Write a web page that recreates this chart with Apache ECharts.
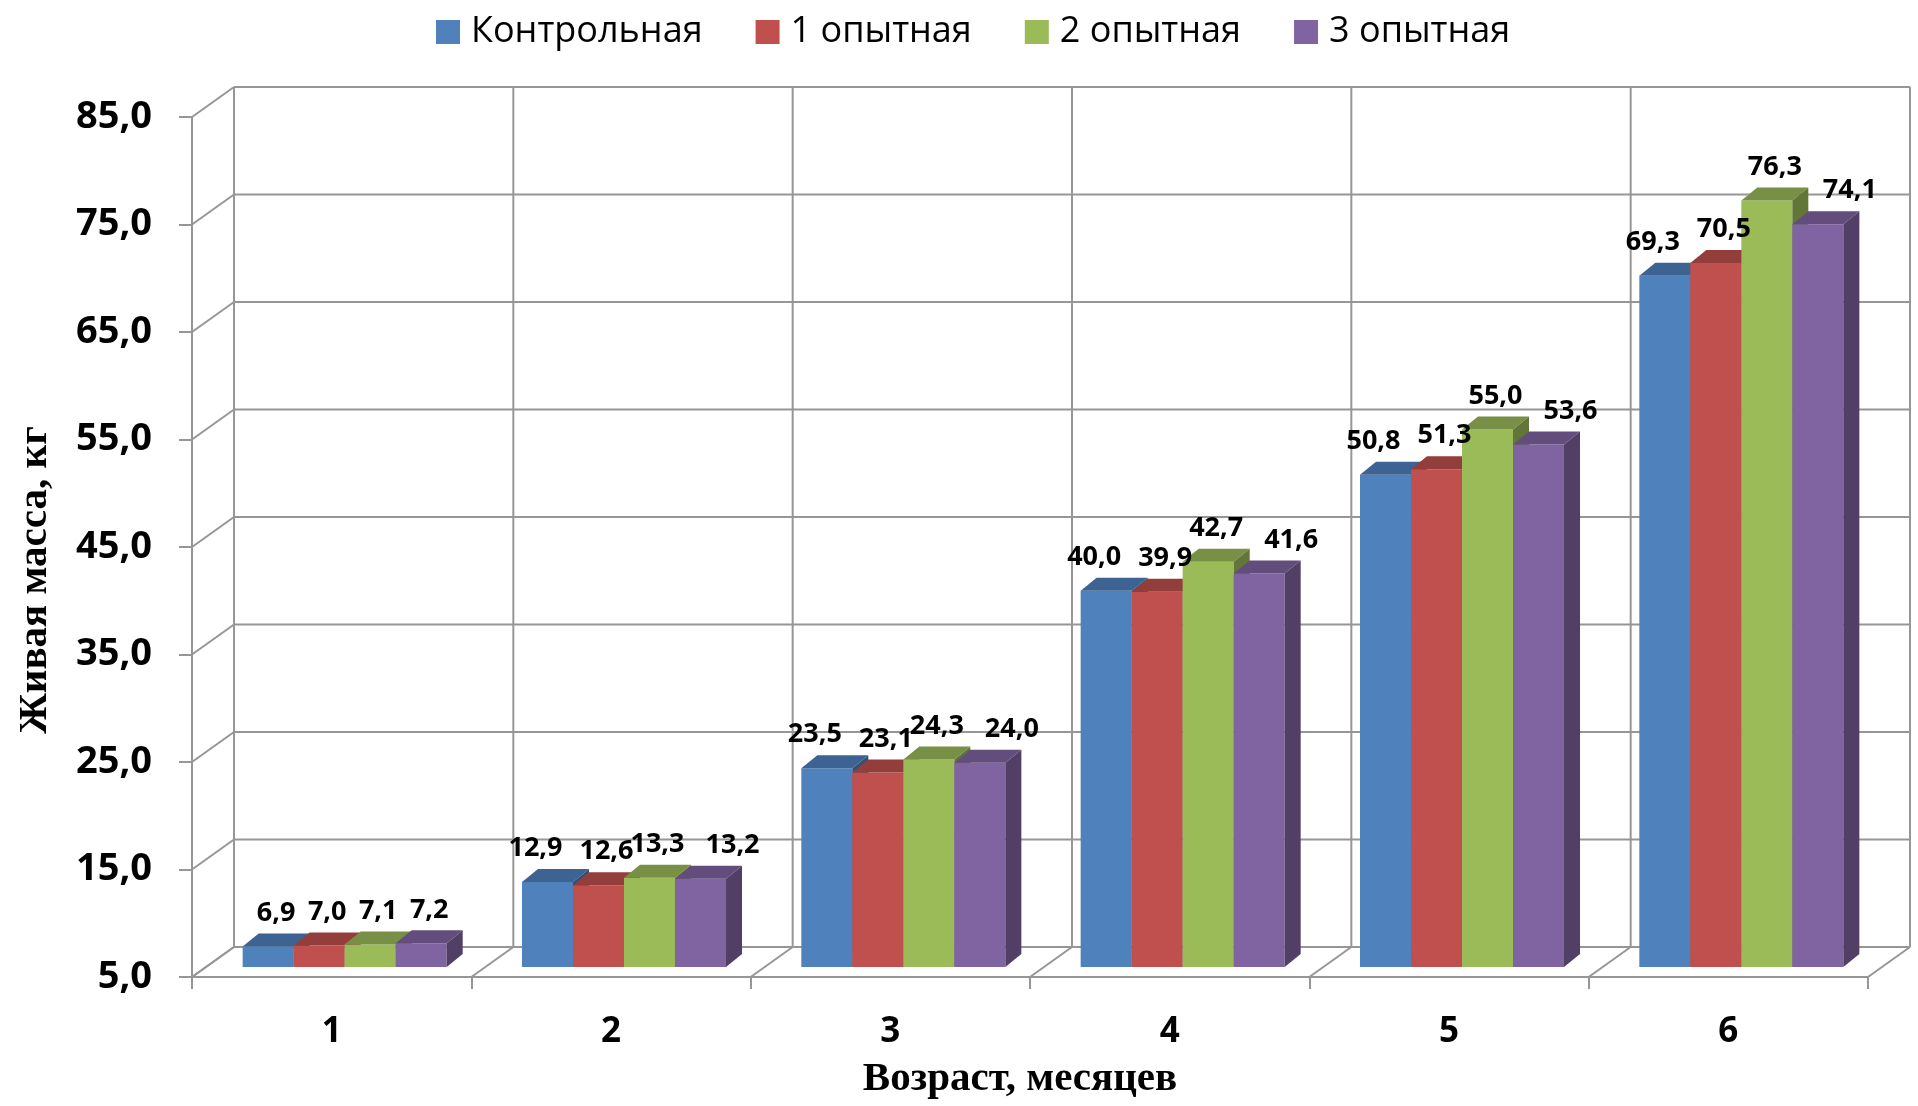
<!DOCTYPE html>
<html>
<head>
<meta charset="utf-8">
<title>Живая масса</title>
<script src="https://cdn.jsdelivr.net/npm/echarts@6.0.0/dist/echarts.min.js"></script>
<style>
    html, body { margin: 0; padding: 0; background: #ffffff; }
    #char1 { width: 1918px; height: 1106px; }
</style>
</head>
<body>
<div id="char1"></div>
<script>
// данные
var months = ["1", "2", "3", "4", "5", "6"];
var seriesNames = ["Контрольная", "1 опытная", "2 опытная", "3 опытная"];
var control = [6.9, 12.9, 23.5, 40.0, 50.8, 69.3];
var exp1 = [7.0, 12.6, 23.1, 39.9, 51.3, 70.5];
var exp2 = [7.1, 13.3, 24.3, 42.7, 55.0, 76.3];
var exp3 = [7.2, 13.2, 24.0, 41.6, 53.6, 74.1];
var yTicks = [5, 15, 25, 35, 45, 55, 65, 75, 85];

var colors = ["#4F81BD", "#C0504D", "#9BBB59", "#8064A2"];
var gridColor = "#969696";

// смещения псевдо-3D
var WALL_DX = 42, WALL_DY = -30;
var BAR_DX = 13, BAR_DY = -10;
var DEPTH_DX = 16, DEPTH_DY = -13;
var BAR_RATIO = 0.1826;

function shade(hex, k) {
    var n = parseInt(hex.slice(1), 16);
    var r = Math.round(((n >> 16) & 255) * k);
    var g = Math.round(((n >> 8) & 255) * k);
    var b = Math.round((n & 255) * k);
    return "rgb(" + r + "," + g + "," + b + ")";
}

function fmt(v) {
    return Number(v).toFixed(1).replace(".", ",");
}

function line(x1, y1, x2, y2) {
    return {
        type: "line",
        shape: { x1: x1, y1: y1, x2: x2, y2: y2 },
        style: { stroke: gridColor, lineWidth: 2 },
    };
}

// задняя и левая стенки, пол
function renderWalls(params, api) {
    var band = api.size([1, 0])[0];
    var first = api.coord([0, yTicks[0]]);
    var xL = first[0] - band / 2;
    var xR = xL + band * months.length;
    var yBottom = first[1];
    var yTop = api.coord([0, yTicks[yTicks.length - 1]])[1];
    var children = [];
    yTicks.forEach(function (v) {
        var y = api.coord([0, v])[1];
        children.push(line(xL, y, xL + WALL_DX, y + WALL_DY));
        children.push(line(xL + WALL_DX, y + WALL_DY, xR + WALL_DX, y + WALL_DY));
    });
    for (var i = 0; i <= months.length; i++) {
        var xb = xL + band * i;
        children.push(line(xb, yBottom, xb + WALL_DX, yBottom + WALL_DY));
        children.push(line(xb + WALL_DX, yBottom + WALL_DY, xb + WALL_DX, yTop + WALL_DY));
    }
    return { type: "group", children: children };
}

function barRenderer(s) {
    return function (params, api) {
        var idx = api.value(0);
        var val = api.value(1);
        var top = api.coord([idx, val]);
        var base = api.coord([idx, yTicks[0]]);
        var band = api.size([1, 0])[0];
        var w = band * BAR_RATIO;
        var x0 = top[0] + (s - seriesNames.length / 2) * w + BAR_DX;
        var x1 = x0 + w;
        var yt = top[1] + BAR_DY;
        var yb = base[1] + BAR_DY;
        var c = colors[s];
        var text = fmt(val);
        // длинные подписи у крайних столбиков раздвигаются, как в Excel
        var shift = 0;
        if (text.length > 3) {
            if (s === 0) shift = -20;
            if (s === seriesNames.length - 1) shift = 24;
        }
        return {
            type: "group",
            children: [
                {
                    type: "rect",
                    shape: { x: x0, y: yt, width: w, height: yb - yt },
                    style: { fill: c },
                },
                {
                    type: "polygon",
                    shape: { points: [[x0, yt], [x1, yt], [x1 + DEPTH_DX, yt + DEPTH_DY], [x0 + DEPTH_DX, yt + DEPTH_DY]] },
                    style: { fill: shade(c, 0.77) },
                },
                {
                    type: "polygon",
                    shape: { points: [[x1, yt], [x1 + DEPTH_DX, yt + DEPTH_DY], [x1 + DEPTH_DX, yb + DEPTH_DY], [x1, yb]] },
                    style: { fill: shade(c, 0.63) },
                },
                {
                    type: "text",
                    x: (x0 + x1 + DEPTH_DX) / 2 + shift,
                    y: yt + DEPTH_DY - 7,
                    z2: 100,
                    style: {
                        text: text,
                        fill: "#000",
                        fontFamily: "Open Sans",
                        fontWeight: "bold",
                        fontSize: 27,
                        align: "center",
                        verticalAlign: "bottom",
                    },
                },
            ],
        };
    };
}

function $(fn) {
    if (document.readyState === "loading") {
        document.addEventListener("DOMContentLoaded", fn);
    } else {
        fn();
    }
}

$(function () {
    char1();
});

function char1() {
    var myChart = echarts.init(document.getElementById("char1"));
    var values = [control, exp1, exp2, exp3];

    var series = [
        {
            name: "walls",
            type: "custom",
            silent: true,
            renderItem: renderWalls,
            data: [[0, yTicks[0]]],
            encode: { x: 0, y: 1 },
            z: 1,
        },
    ];
    values.forEach(function (arr, s) {
        series.push({
            name: seriesNames[s],
            type: "custom",
            renderItem: barRenderer(s),
            itemStyle: { color: colors[s] },
            encode: { x: 0, y: 1 },
            data: arr.map(function (v, i) { return [i, v]; }),
            z: 2,
        });
    });

    var option = {
        animation: false,
        color: colors,
        textStyle: { fontFamily: "Open Sans" },
        legend: {
            data: seriesNames,
            left: 431,
            top: 8,
            icon: "rect",
            itemWidth: 24,
            itemHeight: 24,
            itemGap: 53,
            textStyle: {
                color: "#000",
                fontSize: 36,
                fontFamily: "Open Sans",
                lineHeight: 38,
                padding: [0, 0, 0, 6],
            },
        },
        grid: {
            left: 192,
            right: 50,
            top: 117,
            bottom: 129,
        },
        xAxis: {
            type: "category",
            data: months,
            axisLine: { show: true, lineStyle: { color: gridColor, width: 2 } },
            axisTick: { show: true, length: 12, lineStyle: { color: gridColor, width: 2 } },
            axisLabel: {
                margin: 38,
                color: "#000",
                fontSize: 35,
                fontWeight: "bold",
                fontFamily: "Open Sans",
            },
            splitLine: { show: false },
        },
        yAxis: {
            type: "value",
            min: 5,
            max: 85,
            interval: 10,
            axisLine: { show: true, lineStyle: { color: gridColor, width: 2 } },
            axisTick: { show: true, length: 13, lineStyle: { color: gridColor, width: 2 } },
            axisLabel: {
                margin: 40,
                color: "#000",
                fontSize: 38,
                fontWeight: "bold",
                fontFamily: "Open Sans",
                formatter: function (v) { return fmt(v); },
            },
            splitLine: { show: false },
        },
        graphic: [
            {
                type: "text",
                x: 35,
                y: 580,
                rotation: Math.PI / 2,
                style: {
                    text: "Живая масса, кг",
                    fill: "#000",
                    fontFamily: "Liberation Serif",
                    fontWeight: "bold",
                    fontSize: 41,
                    align: "center",
                    verticalAlign: "middle",
                },
            },
            {
                type: "text",
                x: 1020,
                y: 1079,
                style: {
                    text: "Возраст, месяцев",
                    fill: "#000",
                    fontFamily: "Liberation Serif",
                    fontWeight: "bold",
                    fontSize: 41,
                    align: "center",
                    verticalAlign: "middle",
                },
            },
        ],
        series: series,
    };

    myChart.setOption(option);
    window.addEventListener("resize", function () {
        myChart.resize();
    });
}
</script>
</body>
</html>
